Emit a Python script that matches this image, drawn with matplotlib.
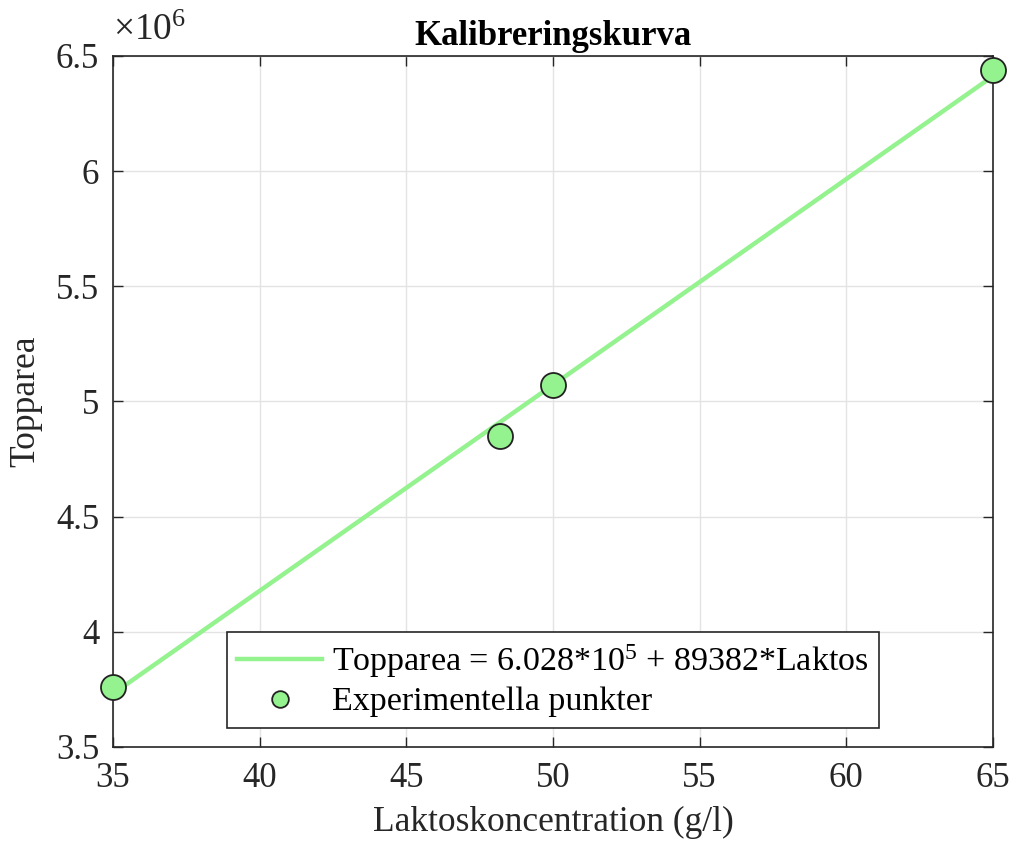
import matplotlib.pyplot as plt
import numpy as np
from matplotlib.ticker import FuncFormatter

plt.rcParams['font.family'] = 'Liberation Serif'
plt.rcParams['mathtext.fontset'] = 'custom'
plt.rcParams['mathtext.rm'] = 'Liberation Serif'
plt.rcParams['mathtext.it'] = 'Liberation Serif:italic'

# data
laktos = [35, 48.2, 50, 65]
topparea = [3.76e6, 4.85e6, 5.07e6, 6.44e6]
intercept = 6.028e5
slope = 89382

green = '#94f28f'
dark = '#262626'

fig = plt.figure(figsize=(10.12, 8.43), dpi=100)
ax = fig.add_axes([0.1117, 0.1139, 0.8695, 0.8197])

xl = np.array([35, 65])
ax.plot(xl, intercept + slope * xl, color=green, lw=3.2,
        label=r'Topparea = 6.028*10$^{5}$ + 89382*Laktos')
ax.plot(laktos, topparea, 'o', ms=18, mfc=green, mec='#222222', mew=1.3,
        label='Experimentella punkter', clip_on=False, zorder=5)

ax.set_xlim(35, 65)
ax.set_ylim(3.5e6, 6.5e6)
ax.set_xticks(np.arange(35, 66, 5))
ax.set_yticks(np.arange(3.5e6, 6.51e6, 0.5e6))
ax.yaxis.set_major_formatter(FuncFormatter(lambda v, p: ('%g' % (v / 1e6))))
ax.grid(True, color='#e3e3e3', lw=1)
ax.set_axisbelow(True)
ax.tick_params(direction='in', top=True, right=True, labelsize=25, length=7,
               width=1, colors=dark)
ax.tick_params(axis='x', pad=11)
ax.tick_params(axis='y', pad=10)
for s in ax.spines.values():
    s.set_linewidth(1.2)
    s.set_color(dark)

ax.set_xlabel('Laktoskoncentration (g/l)', fontsize=25.5, color=dark, labelpad=8)
ax.set_ylabel('Topparea', fontsize=25.5, color=dark, labelpad=10)
ax.set_title('Kalibreringskurva', fontsize=25, fontweight='bold', pad=8)
ax.text(0.0, 1.012, r'$\times10^{6}$', transform=ax.transAxes, fontsize=27,
        ha='left', va='bottom', color=dark)

leg = ax.legend(loc='lower center', bbox_to_anchor=(0.5, 0.028), fontsize=24.5,
                fancybox=False, edgecolor=dark, framealpha=1,
                handlelength=2.5, borderpad=0.3, labelspacing=0.2,
                handletextpad=0.3, borderaxespad=0.0)
leg.get_frame().set_linewidth(1.2)
leg.legend_handles[1].set_markersize(12)

plt.savefig('out.png', dpi=100)
